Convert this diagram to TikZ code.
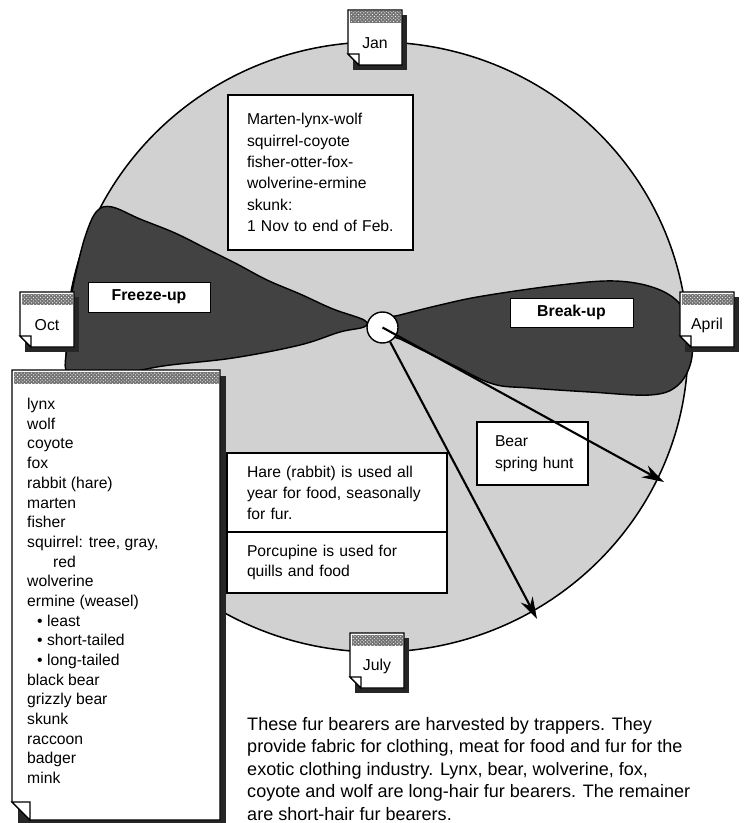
\documentclass[tikz,border=0pt]{standalone}
\usepackage{fontspec}
\setmainfont{Liberation Sans}
\usetikzlibrary{arrows.meta,patterns}

\begin{document}
\begin{tikzpicture}[x=0.03cm, y=-0.03cm,
    blob/.style={draw, line width=1.2pt, fill=black!74},
    lbl/.style={draw, line width=0.8pt, fill=white, font=\bfseries\fontsize{13.5}{16}\selectfont, inner sep=0pt},
    tbox/.style={draw, line width=1.2pt, fill=white, align=left, inner ysep=0pt},
    mon/.style={font=\fontsize{13.5}{16}\selectfont, inner sep=0pt},
    hub/.style={draw, line width=1.2pt, fill=white, circle, minimum size=0.93cm, inner sep=0pt},
    arr/.style={-{Stealth[length=0.66cm, width=0.4cm]}, line width=1.8pt},
    page/.style={line width=1pt, fill=white},
    strip/.style={fill=black!55, postaction={pattern=crosshatch dots, pattern color=white}}
]
\useasboundingbox (0,0) rectangle (749,823);

% the year
\draw[line width=1.3pt, fill=black!18] (377,347) ellipse [x radius=311, y radius=305];

\draw[blob] plot[smooth cycle, tension=0.6] coordinates {(364,320) (333,309) (300,294) (267,280) (237,264) (207,249) (175,233) (140,219) (112,207) (97,211) (86,234) (77,268) (70,305) (67,345) (69,374) (110,376) (163,366) (233,358) (300,345) (340,332) (364,327)};
\draw[blob] plot[smooth cycle, tension=0.6] coordinates {(386,319) (400,315) (440,305) (483,296) (560,285) (615,281) (655,288) (680,304) (691,330) (691,362) (677,386) (650,395) (590,392) (530,388) (493,384) (455,366) (420,349) (400,339) (386,334)};

\node[hub] (hub) at (382.5,327.5) {};
\node[lbl, minimum width=3.66cm, minimum height=0.9cm] (freeze) at (149,297) {Freeze-up};
\node[lbl, minimum width=3.69cm, minimum height=0.87cm] (breakup) at (571.5,312.5) {Break-up};

\node[tbox, text width=4.41cm, inner xsep=0.57cm, minimum height=4.65cm, font=\fontsize{13.4}{18.2}\selectfont] (season) at (320.5,172.5) {Marten-lynx-wolf\\squirrel-coyote\\fisher-otter-fox-\\wolverine-ermine\\skunk:\\1~Nov~to~end~of~Feb.};
\node[tbox, text width=5.4cm, inner xsep=0.6cm, minimum height=2.37cm, font=\fontsize{13.4}{17.9}\selectfont] (hare) at (337,492.5) {Hare (rabbit) is used all\\year~for~food,~seasonally\\for fur.};
\node[tbox, text width=5.4cm, inner xsep=0.6cm, minimum height=1.83cm, font=\fontsize{13.4}{17.5}\selectfont] (porcupine) at (337,562.5) {Porcupine is used for\\quills and food};
\node[tbox, text width=2.25cm, inner xsep=0.54cm, minimum height=1.89cm, font=\fontsize{13.4}{18.8}\selectfont] (bear) at (532.5,453.5) {Bear\\spring~hunt};

\coordinate (beartip) at (664,482);
\coordinate (julytip) at (537,619);
\draw[arr] (hub.center) -- (beartip);
\draw[arr] (hub) -- (julytip);

% month pages
\foreach \nm/\x/\y/\mon in {jan/348/10/Jan, oct/20/292/Oct, april/680/292/April, july/350/633/July}{
  \fill[black!85] (\x+5,\y+5) rectangle (\x+59,\y+60);
  \draw[page] (\x,\y) -- (\x+54,\y) -- (\x+54,\y+55) -- (\x+11,\y+55) -- (\x,\y+44) -- cycle;
  \path[strip] (\x+1.5,\y+1.5) rectangle (\x+52.5,\y+13);
  \draw[page] (\x,\y+44) -- (\x+11,\y+44) -- (\x+11,\y+55) -- cycle;
  \node[mon] (\nm) at (\x+27,\y+33) {\mon};
}

% list of fur bearers
\fill[black!85] (18,376) rectangle (226,826);
\draw[page] (12,370) -- (220,370) -- (220,820) -- (30,820) -- (12,802) -- cycle;
\path[strip] (13.5,371.5) rectangle (218.5,384);
\draw[page] (12,802) -- (30,802) -- (30,820) -- cycle;
\node[anchor=north west, inner sep=0pt, align=left, font=\fontsize{13.4}{16.8}\selectfont] (furlist) at (27,398) {lynx\\wolf\\coyote\\fox\\rabbit (hare)\\marten\\fisher\\squirrel: tree, gray,\\\hspace*{0.78cm}red\\wolverine\\ermine (weasel)\\\hspace*{0.3cm}• least\\\hspace*{0.3cm}• short-tailed\\\hspace*{0.3cm}• long-tailed\\black bear\\grizzly bear\\skunk\\raccoon\\badger\\mink};

\node[anchor=north west, inner sep=0pt, align=left, font=\fontsize{15.4}{19.2}\selectfont] (about) at (247,717) {These fur bearers are harvested by trappers. They\\provide fabric for clothing, meat for food and fur for the\\exotic clothing industry. Lynx, bear, wolverine, fox,\\coyote and wolf are long-hair fur bearers. The remainer\\are short-hair fur bearers.};
\end{tikzpicture}
\end{document}
